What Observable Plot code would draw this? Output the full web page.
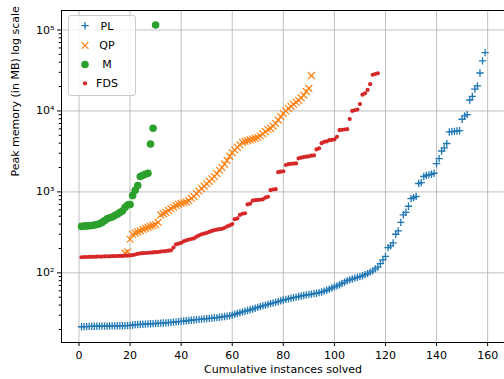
<!DOCTYPE html>
<html><head><meta charset="utf-8">
<script src="https://cdn.jsdelivr.net/npm/d3@7"></script>
<script src="https://cdn.jsdelivr.net/npm/@observablehq/plot@0.6"></script>
<style>body{margin:0;background:#fff}svg{display:block}</style>
</head><body><div id="chart"></div>
<script>
const seriesNames = ["PL", "QP", "M", "FDS"];
const seriesColors = ["#1f77b4", "#ff7f0e", "#2ca02c", "#d62728"];
const seriesStart = [1, 18, 1, 1];

const plValues = [21.6,21.7,21.7,21.8,21.8,21.9,21.9,22.0,22.0,22.0,
 22.0,22.1,22.1,22.1,22.2,22.2,22.2,22.3,22.3,22.5,
 22.7,22.9,23.0,23.1,23.2,23.3,23.4,23.5,23.6,23.7,
 23.8,23.9,24.0,24.1,24.3,24.4,24.6,24.8,25.0,25.2,
 25.4,25.6,25.8,26.0,26.2,26.4,26.6,26.8,27.0,27.2,
 27.4,27.6,27.8,28.0,28.3,28.6,28.9,29.2,29.5,30.0,
 30.8,31.5,32.2,33.0,33.6,34.3,35.0,35.8,36.6,37.5,
 38.3,39.1,39.9,40.8,41.7,42.5,43.3,44.2,45.2,46.2,
 47.0,47.8,48.6,49.4,50.2,51.0,51.8,52.6,53.4,54.0,
 54.6,55.3,56.0,57.0,58.0,59.5,61.0,63.0,65.0,67.0,
 69,71,74,77,80,82,84,86,88,90,
 92,95,98,102,106,112,118,130,145,160,
 205,215,235,300,330,420,520,560,665,825,
 850,880,1270,1300,1550,1600,1620,1650,1700,2240,
 2580,3200,3500,3960,5500,5550,5600,5650,5700,7900,
 8700,9000,13650,15100,18600,20400,29400,41600,52600];

const qpValues = [175,182,260,300,310,320,330,345,355,365,
 375,385,395,420,520,540,560,590,620,650,
 680,700,720,735,750,780,830,880,950,1020,
 1100,1180,1260,1350,1450,1550,1680,1850,2000,2200,
 2450,2750,3050,3300,3550,3800,4100,4200,4300,4400,
 4500,4580,4700,4900,5200,5550,5900,6100,6500,7000,
 7700,8500,9300,10000,10700,11400,12100,12800,13500,14500,
 15700,17400,19000,27300];

const mValues = [375,378,380,382,385,390,395,405,420,440,
 465,480,490,510,530,555,580,640,690,700,
 900,1050,1200,1550,1600,1650,1700,3900,6100,115000];

const fdsValues = [156,157,157,158,158,158,159,159,159,160,
 160,160,161,161,161,162,162,163,163,164,
 166,168,172,174,175,176,177,178,179,180,
 181,183,185,186,188,190,205,225,230,235,
 245,252,258,262,266,280,290,300,306,312,
 320,330,338,342,346,350,360,375,385,400,
 460,470,520,537,545,700,716,780,790,795,
 800,810,850,870,1050,1070,1080,1750,1780,1800,
 2150,2200,2220,2240,2250,2600,2650,2690,2720,2750,
 2800,2820,3350,3450,4000,4150,4200,4350,4400,4450,
 4790,5800,5850,5900,5950,7950,10000,10200,10400,12150,
 15900,16500,18200,21400,28000,28600,29200];

const xTicks = [0, 20, 40, 60, 80, 100, 120, 140, 160];
const yMajorTicks = [100, 1000, 10000, 100000];
const yMinorTicks = [20,30,40,50,60,70,80,90,200,300,400,500,600,700,800,900,
 2000,3000,4000,5000,6000,7000,8000,9000,20000,30000,40000,50000,60000,70000,80000,90000];
const xDomain = [-6.85, 166.6];
const yDomain = [13.8, 1.74e5];

const allValues = [plValues, qpValues, mValues, fdsValues];
const rows = allValues.map((vals, s) => vals.map((v, i) => ({series: seriesNames[s], x: seriesStart[s] + i, y: v})));

const supDigits = {"0":"⁰","1":"¹","2":"²","3":"³","4":"⁴","5":"⁵","6":"⁶","7":"⁷","8":"⁸","9":"⁹"};
const supFormat = d => "10" + String(Math.round(Math.log10(d))).split("").map(c => supDigits[c]).join("");

const gridStyle = {stroke: "#b0b0b0", strokeOpacity: 1, strokeWidth: 0.8};

const chart = Plot.plot({
  width: 504, height: 379,
  marginLeft: 61, marginRight: 0, marginTop: 10, marginBottom: 37,
  style: {fontFamily: "DejaVu Sans", fontSize: "11px", color: "#000", background: "#fff", overflow: "visible"},
  x: {domain: xDomain},
  y: {type: "log", domain: yDomain},
  marks: [
    Plot.gridX(xTicks, gridStyle),
    Plot.gridY(yMajorTicks, gridStyle),
    Plot.dot(rows[0], {x: "x", y: "y", symbol: "plus", stroke: seriesColors[0], fill: "none", r: 2.5, strokeWidth: 1.3}),
    Plot.dot(rows[1], {x: "x", y: "y", symbol: "times", stroke: seriesColors[1], fill: "none", r: 3.2, strokeWidth: 1.2}),
    Plot.dot(rows[2], {x: "x", y: "y", symbol: "circle", fill: seriesColors[2], stroke: "none", r: 3.8}),
    Plot.dot(rows[3], {x: "x", y: "y", symbol: "circle", fill: seriesColors[3], stroke: "none", r: 2.1}),
    Plot.axisX({ticks: xTicks, tickSize: 4, tickPadding: 5, label: null, fontSize: 11}),
    Plot.axisY({ticks: yMinorTicks, tickSize: 2.3, tickFormat: () => "", label: null}),
    Plot.axisY({ticks: yMajorTicks, tickSize: 4, tickPadding: 3, tickFormat: supFormat, label: null, fontSize: 11}),
    Plot.ruleX([xDomain[0]], {stroke: "#000", strokeWidth: 1}),
    Plot.ruleY(yDomain, {stroke: "#000", strokeWidth: 1}),
    Plot.text(["Cumulative instances solved"], {frameAnchor: "bottom", dy: 30, fontSize: 11, fill: "#000"}),
    Plot.text(["Peak memory (in MB) log scale"], {frameAnchor: "left", dx: -46, rotate: -90, fontSize: 11, fill: "#000"})
  ]
});

// legend
const svg = d3.select(chart);
const lg = svg.append("g");
lg.append("rect").attr("x", 68.5).attr("y", 15.5).attr("width", 67).attr("height", 80).attr("rx", 2.5)
  .attr("fill", "#fff").attr("fill-opacity", 0.8).attr("stroke", "#cccccc").attr("stroke-width", 1);
const legendSymbols = [
  {type: d3.symbolPlus, size: Math.PI * 2.5 * 2.5, stroke: true, sw: 1.3},
  {type: d3.symbolTimes, size: Math.PI * 3.2 * 3.2, stroke: true, sw: 1.2},
  {type: d3.symbolCircle, size: Math.PI * 3.8 * 3.8, stroke: false},
  {type: d3.symbolCircle, size: Math.PI * 2.1 * 2.1, stroke: false}
];
const rowY = [25.7, 45.5, 64.5, 83.3];
seriesNames.forEach((name, i) => {
  const s = legendSymbols[i];
  const p = lg.append("path").attr("d", d3.symbol(s.type, s.size)()).attr("transform", `translate(85,${rowY[i]})`);
  if (s.stroke) p.attr("fill", "none").attr("stroke", seriesColors[i]).attr("stroke-width", s.sw);
  else p.attr("fill", seriesColors[i]);
  lg.append("text").attr("x", 107).attr("y", rowY[i]).attr("dy", "0.36em").attr("fill", "#000")
    .attr("font-family", "DejaVu Sans").attr("font-size", 11).text(name);
});

document.getElementById("chart").appendChild(chart);
</script>
</body></html>
